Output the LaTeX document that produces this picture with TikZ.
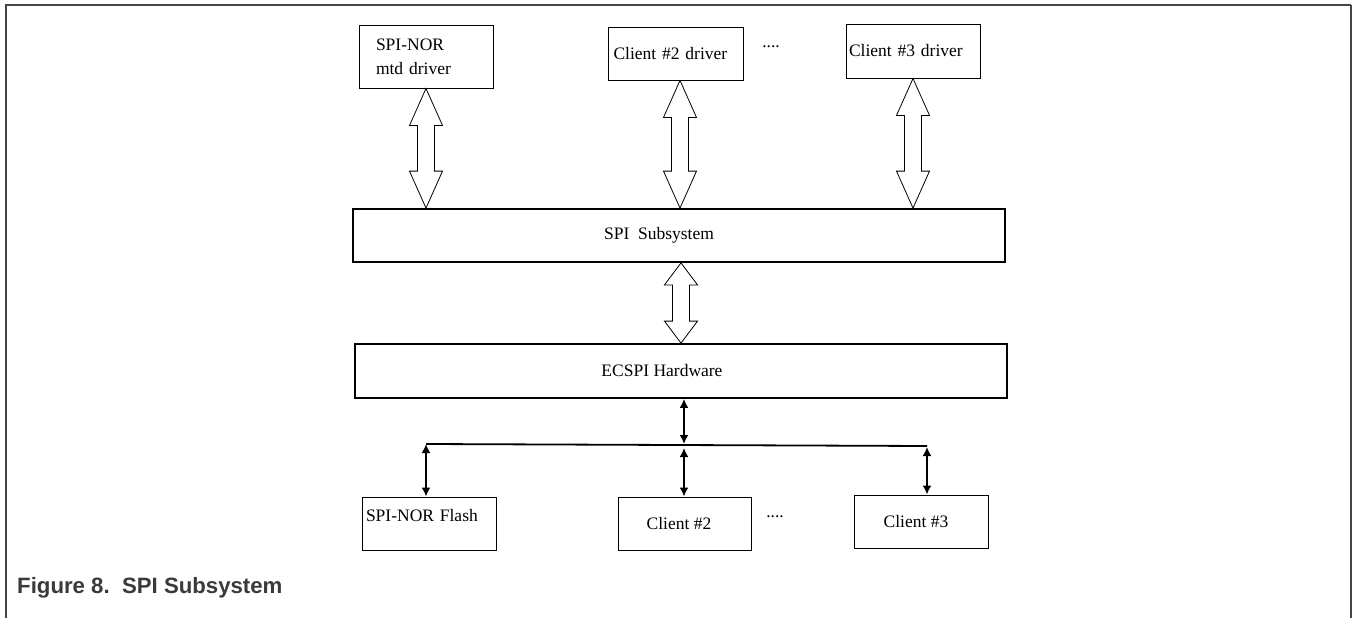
\documentclass[tikz,border=0pt]{standalone}
\usepackage{fontspec}
\setmainfont{Liberation Serif}
\newfontfamily\capfont{Liberation Sans}
\usetikzlibrary{calc,arrows.meta}
\definecolor{framegray}{HTML}{454545}
\definecolor{capgray}{HTML}{3A3A3A}
\newcommand{\hollowarrow}[3]{%
  \draw[hollow] let \p1=#1, \p2=#2 in
    (\x1,\y1) -- (\x1+16.5pt,\y1-#3) -- (\x1+8.5pt,\y1-#3) -- (\x1+8.5pt,\y2+#3)
    -- (\x1+16.5pt,\y2+#3) -- (\x1,\y2) -- (\x1-16.5pt,\y2+#3) -- (\x1-8.5pt,\y2+#3)
    -- (\x1-8.5pt,\y1-#3) -- (\x1-16.5pt,\y1-#3) -- cycle;}
\begin{document}
\begin{tikzpicture}[x=1pt,y=-1pt,
  txt/.style={font=\fontsize{17.5}{24}\selectfont},
  box/.style={draw, line width=0.9pt, inner sep=3pt, txt},
  bigbox/.style={draw, line width=1.8pt, minimum width=652pt, minimum height=53pt, inner sep=3pt, txt},
  hollow/.style={draw, line width=0.8pt, fill=white, line join=miter},
  bus/.style={line width=1.8pt},
  link/.style={line width=1.8pt, {Latex[length=9pt,width=9pt]}-{Latex[length=9pt,width=9pt]}},
  framel/.style={draw=framegray, line width=2.5pt}
]
\useasboundingbox (0,0) rectangle (1353,618);
% page frame
\draw[framel] (6,618) -- (6,5) -- (1351,5);
\draw[framegray, line width=2pt] (1351,5) -- (1351,618);

% top driver boxes
\node[box, minimum width=134pt, minimum height=63pt, text width=100pt, align=left] (spinor) at (426,56.5) {SPI-NOR\\mtd driver};
\node[box, minimum width=135pt, minimum height=53pt, text width=124pt, align=left] (c2drv) at (675.5,53.5) {Client \#2 driver};
\node[box, minimum width=134pt, minimum height=54pt, text width=128pt, align=left] (c3drv) at (913,51) {Client \#3 driver};
\node[txt, inner sep=0pt] (dotsA) at (771,47) {....};

% subsystem and hardware
\node[bigbox] (sub) at (679,235.5) {SPI~~Subsystem\kern40pt};
\node[bigbox, minimum height=54pt] (ecspi) at (681,371) {ECSPI Hardware\kern38pt};

% hollow arrows
\hollowarrow{(spinor.south)}{(sub.north)}{37pt}
\hollowarrow{([xshift=4.5pt]c2drv.south)}{(sub.north)}{37pt}
\hollowarrow{(c3drv.south)}{(sub.north)}{37pt}
\hollowarrow{([xshift=2pt]sub.south)}{(ecspi.north)}{22pt}

% bottom devices
\node[box, minimum width=134pt, minimum height=53pt, text width=126pt, align=left] (flash) at (429,523.5) {\raisebox{6pt}[0.7em][0.2em]{SPI-NOR Flash}};
\node[box, minimum width=133pt, minimum height=53pt] (c2) at (684.5,523.5) {Client \#2\kern11pt};
\node[box, minimum width=134pt, minimum height=53pt] (c3) at (921,521.5) {Client \#3\kern10pt};
\node[txt, inner sep=0pt] (dotsB) at (775,517) {....};

% bus
\coordinate (busL) at (426,444);
\coordinate (busR) at (927,446);
\coordinate (busM) at (684,444);
\draw[bus] (busL) -- (busR);
\draw[link] ([xshift=3pt]ecspi.south) -- (busM);
\draw[link] (busL) -- (busL |- flash.north);
\draw[link] ([yshift=-4pt]busM) -- (busM |- c2.north);
\draw[link] ([yshift=-1pt]busR) -- (busR |- c3.north);

% caption
\node[anchor=base west, inner sep=0pt, text=capgray, font=\capfont\bfseries\fontsize{22.2}{26}\selectfont] (cap) at (17,593) {Figure 8.\ \ SPI Subsystem};
\end{tikzpicture}
\end{document}
